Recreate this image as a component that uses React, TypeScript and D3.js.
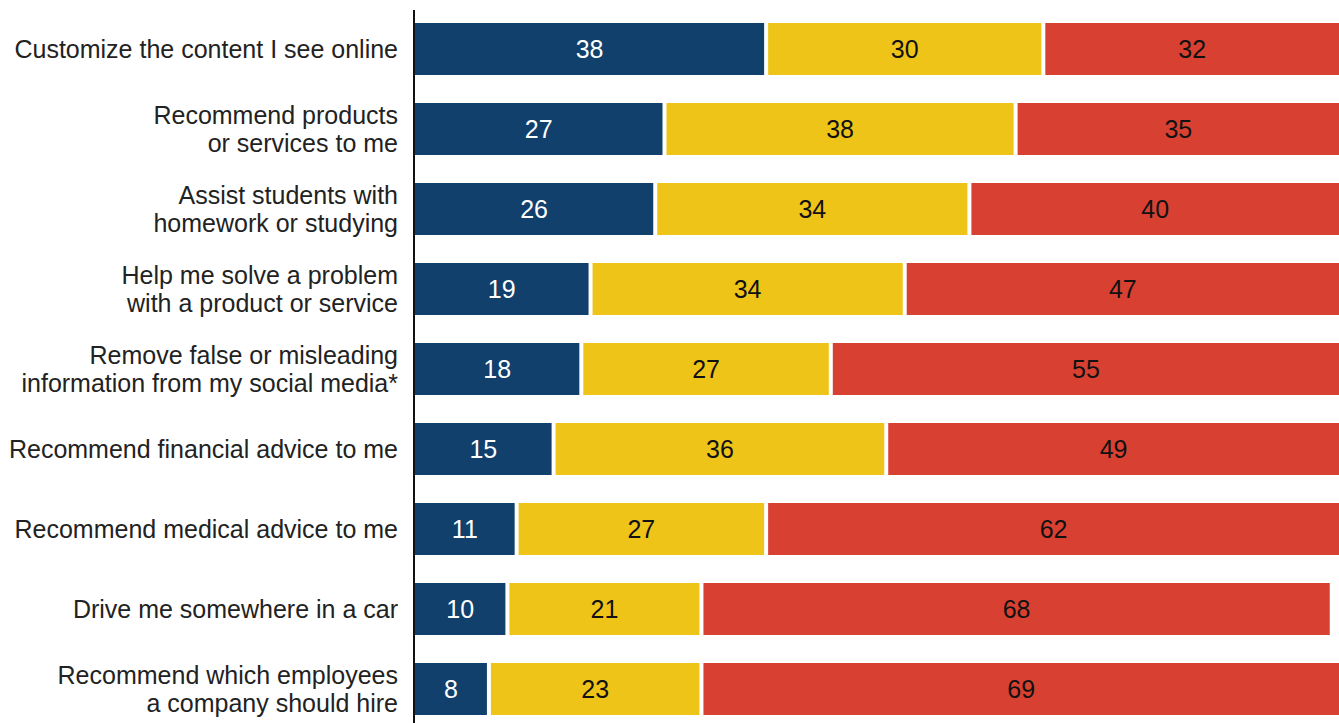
import React from "react";
import * as d3 from "d3";

const categories = [
  ["Customize the content I see online"],
  ["Recommend products", "or services to me"],
  ["Assist students with", "homework or studying"],
  ["Help me solve a problem", "with a product or service"],
  ["Remove false or misleading", "information from my social media*"],
  ["Recommend financial advice to me"],
  ["Recommend medical advice to me"],
  ["Drive me somewhere in a car"],
  ["Recommend which employees", "a company should hire"],
];

const seriesA = [38, 27, 26, 19, 18, 15, 11, 10, 8];
const seriesB = [30, 38, 34, 34, 27, 36, 27, 21, 23];
const seriesC = [32, 35, 40, 47, 55, 49, 62, 68, 69];

const colors = ["#10406b", "#eec419", "#d84132"];
const textColors = ["#ffffff", "#111111", "#111111"];

const width = 1339;
const height = 723;

export default function App() {
  const keys = categories.map((_, i) => String(i));
  const y = d3
    .scaleBand<string>()
    .domain(keys)
    .range([9, 729])
    .paddingInner(0.35)
    .paddingOuter(0.175);
  const x = d3.scaleLinear().domain([0, 100]).range([415, 1339]);

  const rows = categories.map((_, i) => [seriesA[i], seriesB[i], seriesC[i]]);
  const gap = 2;
  const labelSize = 25;
  const lineH = 28;

  return (
    <svg
      width={width}
      height={height}
      style={{ position: "absolute", left: 0, top: 0, background: "#fff" }}
      fontFamily="'Liberation Sans', Arial, Helvetica, sans-serif"
    >
      {rows.map((vals, i) => {
        const y0 = y(String(i)) as number;
        const bw = y.bandwidth();
        const cy = y0 + bw / 2;
        let acc = 0;
        const lines = categories[i];
        return (
          <g key={i}>
            {vals.map((v, j) => {
              const s = acc;
              acc += v;
              const x0 = x(s) + (j > 0 ? gap : 0);
              const x1 = x(acc) - (j < vals.length - 1 ? gap : 0);
              return (
                <g key={j}>
                  <rect x={x0} y={y0} width={x1 - x0} height={bw} fill={colors[j]} />
                  <text
                    x={(x0 + x1) / 2}
                    y={cy}
                    dy="0.36em"
                    textAnchor="middle"
                    fontSize={25}
                    fill={textColors[j]}
                  >
                    {v}
                  </text>
                </g>
              );
            })}
            {lines.map((line, k) => (
              <text
                key={k}
                x={398}
                y={cy + (k - (lines.length - 1) / 2) * lineH}
                dy="0.36em"
                textAnchor="end"
                fontSize={labelSize}
                fill="#222"
              >
                {line}
              </text>
            ))}
          </g>
        );
      })}
      <line x1={414} x2={414} y1={10} y2={height} stroke="#111" strokeWidth={2} />
    </svg>
  );
}
